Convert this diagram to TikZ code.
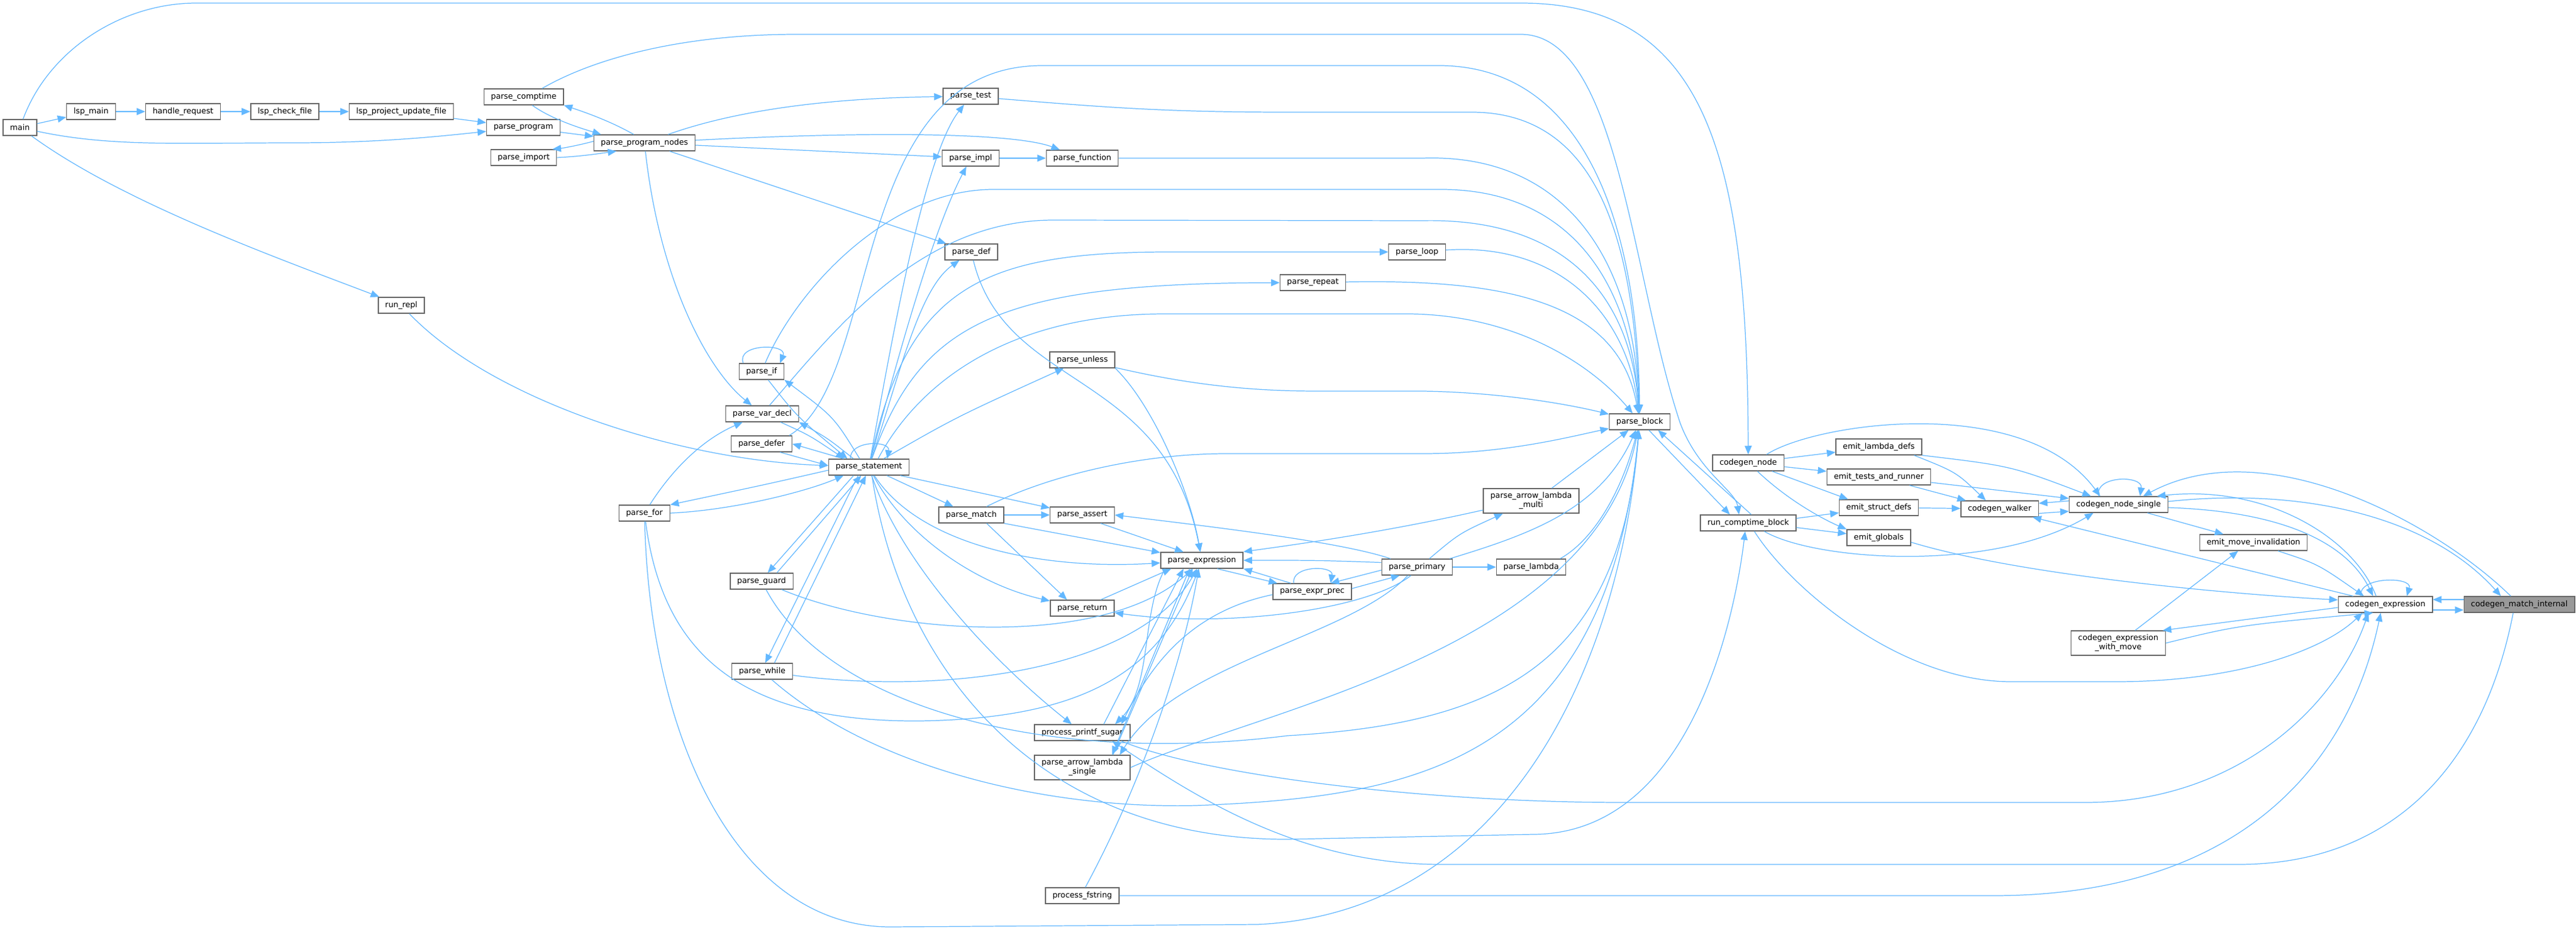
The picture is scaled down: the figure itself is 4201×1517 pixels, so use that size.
\documentclass[tikz,border=0pt]{standalone}
\usepackage{fontspec}
\setmainfont{DejaVu Sans}
\usetikzlibrary{arrows.meta}
\definecolor{callblue}{RGB}{99,184,255}
\definecolor{boxgray}{RGB}{102,102,102}
\definecolor{focusgray}{RGB}{153,153,153}
\tikzset{
    fn/.style={draw=boxgray, fill=white, line width=0.8pt, inner xsep=6.5pt, inner ysep=0pt,
        minimum height=0.52cm, font=\fontsize{7.3}{8.4}\selectfont},
    fntwo/.style={fn, align=center, minimum height=0.8cm},
    fnfocus/.style={fn, fill=focusgray},
    call/.style={draw=callblue, line width=0.7pt, -{Triangle[length=8pt,width=6.5pt]}}
}

\begin{document}
\begin{tikzpicture}[x=0.02cm,y=-0.02cm]

     \fill [white] (0,0) rectangle (4201,1517);
     \useasboundingbox (0,0) rectangle (4201,1517);

     \node [fn] (main) at (32.5,208) {main};
     \node [fn] (lspmain) at (148.5,182) {lsp\_main};
     \node [fn] (handlereq) at (298.5,182) {handle\_request};
     \node [fn] (lspcheck) at (464.5,182) {lsp\_check\_file};
     \node [fn] (lspupdate) at (654.5,182) {lsp\_project\_update\_file};
     \node [fn] (pcomptime) at (854,158) {parse\_comptime};
     \node [fn] (pprogram) at (853.5,208) {parse\_program};
     \node [fn] (pnodes) at (1051,233) {parse\_program\_nodes};
     \node [fn] (pimport) at (854,257) {parse\_import};
     \node [fn] (runrepl) at (654.5,498) {run\_repl};
     \node [fn] (ptest) at (1583,157) {parse\_test};
     \node [fn] (pimpl) at (1583,258) {parse\_impl};
     \node [fn] (pfunction) at (1765,258) {parse\_function};
     \node [fn] (pdef) at (1584,411) {parse\_def};
     \node [fn] (ploop) at (2311,411) {parse\_loop};
     \node [fn] (prepeat) at (2141,461) {parse\_repeat};
     \node [fn] (punless) at (1765,587) {parse\_unless};
     \node [fn] (pif) at (1242,606) {parse\_if};
     \node [fn] (pvardecl) at (1243,675) {parse\_var\_decl};
     \node [fn] (pdefer) at (1242,724) {parse\_defer};
     \node [fn] (pstmt) at (1417,762) {parse\_statement};
     \node [fn] (pfor) at (1051,837) {parse\_for};
     \node [fn] (pmatch) at (1584,840) {parse\_match};
     \node [fn] (passert) at (1765,840) {parse\_assert};
     \node [fn] (pexpr) at (1960,914) {parse\_expression};
     \node [fn] (pguard) at (1242,948) {parse\_guard};
     \node [fn] (preturn) at (1765,992) {parse\_return};
     \node [fn] (pwhile) at (1243,1095) {parse\_while};
     \node [fn] (pprintf) at (1765,1195) {process\_printf\_sugar};
     \node [fntwo] (psingle) at (1765,1252) {parse\_arrow\_lambda\\\_single};
     \node [fn] (pfstring) at (1765,1461) {process\_fstring};
     \node [fn] (pprec) at (2140,965) {parse\_expr\_prec};
     \node [fn] (pprimary) at (2311,925) {parse\_primary};
     \node [fntwo] (pmulti) at (2497,817) {parse\_arrow\_lambda\\\_multi};
     \node [fn] (plambda) at (2497,925) {parse\_lambda};
     \node [fn] (pblock) at (2674,688) {parse\_block};
     \node [fn] (cgnode) at (2851,755) {codegen\_node};
     \node [fn] (runcomptime) at (2851,853) {run\_comptime\_block};
     \node [fn] (emitlambda) at (3064,729) {emit\_lambda\_defs};
     \node [fn] (emittests) at (3064,778) {emit\_tests\_and\_runner};
     \node [fn] (emitstruct) at (3064,828) {emit\_struct\_defs};
     \node [fn] (emitglobals) at (3064,877) {emit\_globals};
     \node [fn] (cgwalker) at (3261,830) {codegen\_walker};
     \node [fn] (cgsingle) at (3455,823) {codegen\_node\_single};
     \node [fn] (emitmove) at (3675,885) {emit\_move\_invalidation};
     \node [fn] (cgexpr) at (3890,986) {codegen\_expression};
     \node [fnfocus] (cgmatch) at (4108.5,986) {codegen\_match\_internal};
     \node [fntwo] (cgexprmove) at (3454.5,1049) {codegen\_expression\\\_with\_move};

     \draw [call] (main) -- (lspmain);
     \draw [call] (lspmain) -- (handlereq);
     \draw [call] (handlereq) -- (lspcheck);
     \draw [call] (lspcheck) -- (lspupdate);
     \draw [call] (lspupdate) -- (pprogram);
     \draw [call] (main) .. controls (180,240) and (300,233) .. (480,233) .. controls (620,233) and (720,222) .. (pprogram);
     \draw [call] (main) .. controls (80,80) and (200,5) .. (320,5) -- (2480,5) .. controls (2780,5) and (2850,250) .. (cgnode);
     \draw [call] (main) .. controls (200,330) and (450,420) .. (runrepl);
     \draw [call] (runrepl) .. controls (800,650) and (1100,750) .. (pstmt);
     \draw [call] (pprogram) -- (pnodes);
     \draw [call] ([xshift=0.28cm]pcomptime.south) .. controls (900,195) and (950,210) .. ([xshift=0.25cm]pnodes.north west);
     \draw [call] ([xshift=-0.35cm]pnodes.north) .. controls (1000,200) and (960,185) .. (pcomptime.south east);
     \draw [call] (pimport.east) .. controls (950,255) and (980,250) .. ([xshift=0.75cm]pnodes.south west);
     \draw [call] ([yshift=0.05cm]pnodes.west) .. controls (940,238) and (915,242) .. ([xshift=-0.15cm]pimport.north east);
     \draw [call] ([xshift=0.6cm]pcomptime.north) .. controls (960,100) and (1100,56) .. (1300,56) -- (2480,56) .. controls (2640,56) and (2660,450) .. (2740,690) .. controls (2770,770) and (2830,800) .. ([xshift=-0.3cm]runcomptime.north);
     \draw [call] (pnodes) .. controls (1200,180) and (1350,160) .. (ptest);
     \draw [call] (pnodes) .. controls (1400,215) and (1650,215) .. (pfunction);
     \draw [call] (pnodes) -- (pimpl);
     \draw [call] (pnodes) -- (pdef);
     \draw [call] (pnodes) .. controls (1075,450) and (1150,600) .. (pvardecl);

     \draw [call] (pstmt) .. controls (1460,520) and (1510,250) .. (ptest);
     \draw [call] (ptest) .. controls (1800,175) and (1900,183) .. (2100,183) -- (2400,183) .. controls (2600,183) and (2665,380) .. (pblock);
     \draw [call] (pstmt) .. controls (1480,520) and (1530,360) .. (pimpl);
     \draw [call] (pimpl) -- (pfunction);
     \draw [call] (pfunction) -- (2320,258) .. controls (2550,250) and (2665,420) .. (pblock);
     \draw [call] (pstmt) .. controls (1470,600) and (1500,470) .. (pdef);
     \draw [call] (pdef) .. controls (1640,640) and (1900,600) .. (pexpr);
     \draw [call] (pstmt) .. controls (1480,470) and (1600,412) .. (1900,411) -- (ploop);
     \draw [call] (ploop) .. controls (2550,395) and (2655,520) .. (pblock);
     \draw [call] (pstmt) .. controls (1500,530) and (1620,462) .. (prepeat);
     \draw [call] (prepeat) .. controls (2450,455) and (2640,490) .. (pblock);
     \draw [call] (pstmt) .. controls (1560,680) .. (punless);
     \draw [call] (punless) .. controls (1950,630) and (2050,638) .. (2150,638) -- (2320,638) .. controls (2450,640) and (2560,660) .. (pblock);
     \draw [call] (punless.south east) .. controls (1880,660) and (1940,800) .. (pexpr);
     \draw [call] ([xshift=-0.6cm]pif.north) .. controls (1200,560) and (1285,560) .. ([xshift=0.6cm]pif.north);
     \draw [call] (pif) .. controls (1300,470) and (1450,309) .. (1620,309) -- (2350,309) .. controls (2560,309) and (2660,460) .. (pblock);
     \draw [call] (pvardecl) .. controls (1360,540) and (1500,358) .. (1720,359) -- (2320,360) .. controls (2560,355) and (2660,490) .. (pblock);
     \draw [call] (pif) .. controls (1300,680) .. ([xshift=-0.7cm]pstmt.north);
     \draw [call] ([xshift=-0.3cm]pstmt.north) .. controls (1360,680) .. (pif.south east);
     \draw [call] (pvardecl) .. controls (1320,710) .. ([xshift=-0.8cm]pstmt.north);
     \draw [call] ([xshift=-0.5cm]pstmt.north) .. controls (1350,715) .. (pvardecl.south east);
     \draw [call] ([xshift=-0.4cm]pdefer.south east) -- ([yshift=0.05cm]pstmt.west);
     \draw [call] ([xshift=0.5cm]pstmt.north west) -- (pdefer.east);
     \draw [call] ([xshift=-0.6cm]pstmt.north) .. controls (1385,718) and (1452,718) .. ([xshift=0.6cm]pstmt.north);
     \draw [call] (pfor) .. controls (1100,760) and (1150,715) .. (pvardecl);
     \draw [call] ([yshift=-0.1cm]pstmt.west) .. controls (1250,790) .. (pfor.north east);
     \draw [call] (pfor.east) .. controls (1200,832) and (1320,800) .. ([xshift=0.5cm]pstmt.south west);
     \draw [call] (pfor) .. controls (1080,1060) and (1200,1178) .. (1500,1176) .. controls (1760,1172) and (1890,1100) .. (pexpr);
     \draw [call] (pfor) .. controls (1060,1200) and (1200,1510) .. (1450,1512) -- (2050,1508) .. controls (2450,1490) and (2640,1100) .. (pblock);
     \draw [call] ([xshift=-0.5cm]pstmt.south) -- ([xshift=0.2cm]pguard.north);
     \draw [call] ([xshift=0.5cm]pguard.north) -- ([xshift=-0.25cm]pstmt.south);
     \draw [call] ([xshift=-0.35cm]pstmt.south) -- ([xshift=0.1cm]pwhile.north);
     \draw [call] ([xshift=0.4cm]pwhile.north) -- ([xshift=-0.1cm]pstmt.south);
     \draw [call] (pguard) .. controls (1450,1035) and (1800,1060) .. (pexpr);
     \draw [call] (pguard) .. controls (1350,1150) and (1700,1250) .. (2100,1200) .. controls (2450,1180) and (2640,1080) .. (pblock);
     \draw [call] (pwhile) .. controls (1550,1135) and (1860,1090) .. (pexpr);
     \draw [call] (pwhile) .. controls (1420,1250) and (1700,1320) .. (1950,1314) .. controls (2300,1300) and (2620,1250) .. (pblock);
     \draw [call] (pstmt) -- (pmatch);
     \draw [call] ([xshift=-0.3cm]pstmt.south east) -- (passert);
     \draw [call] (pstmt) .. controls (1480,880) and (1600,955) .. (preturn);
     \draw [call] (pstmt) .. controls (1500,890) and (1700,930) .. (pexpr);
     \draw [call] (pstmt) .. controls (1470,920) and (1620,1080) .. (pprintf);
     \draw [call] ([xshift=0.1cm]pstmt.south) .. controls (1470,1100) and (1700,1370) .. (2100,1369) -- (2500,1361) .. controls (2760,1360) and (2830,1000) .. ([xshift=-0.1cm]runcomptime.south);
     \draw [call] ([xshift=0.3cm]pstmt.north) .. controls (1500,620) and (1650,512) .. (1900,512) -- (2300,512) .. controls (2480,515) and (2600,600) .. (pblock);
     \draw [call] ([xshift=-0.1cm]pdefer.north east) .. controls (1440,620) and (1380,107) .. (1700,107) -- (2350,107) .. controls (2600,110) and (2672,400) .. (pblock);

     \draw [call] (pmatch) -- (passert);
     \draw [call] (pmatch.south east) -- (pexpr);
     \draw [call] ([xshift=0.5cm]pmatch.south) -- ([xshift=-0.5cm]preturn.north);
     \draw [call] ([xshift=0.5cm]pmatch.north) .. controls (1700,780) and (1850,740) .. (2000,740) -- (2320,740) .. controls (2450,740) and (2550,715) .. (pblock);
     \draw [call] ([xshift=0.6cm]passert.south) -- ([xshift=-0.6cm]pexpr.north);
     \draw [call] ([xshift=0.6cm]preturn.north) -- ([xshift=-1cm]pexpr.south);
     \draw [call] ([xshift=0.5cm]pexpr.south) -- (pprec);
     \draw [call] ([xshift=0.6cm]pprec.north west) -- (pexpr.south east);
     \draw [call] ([xshift=-0.6cm]pprec.north) .. controls (2105,922) and (2175,922) .. ([xshift=0.6cm]pprec.north);
     \draw [call] ([yshift=0.1cm]pprec.east) -- ([xshift=0.6cm]pprimary.south west);
     \draw [call] ([yshift=-0.1cm]pprimary.west) -- ([xshift=0.6cm]pprec.north);
     \draw [call] ([yshift=0.15cm]pprimary.west) .. controls (2150,914) .. (pexpr.east);
     \draw [call] ([yshift=-0.3cm]pmulti.west) .. controls (2250,870) and (2100,890) .. ([yshift=0.28cm]pexpr.east);
     \draw [call] ([xshift=0.3cm]pprimary.north west) .. controls (2190,885) and (2000,862) .. (passert.east);
     \draw [call] ([xshift=0.4cm]pprimary.north) .. controls (2380,870) .. ([xshift=-0.92cm]pmulti.south);
     \draw [call] (pprimary) -- (plambda);
     \draw [call] ([xshift=-0.9cm]pmulti.north east) -- (pblock);
     \draw [call] ([xshift=-0.1cm]pprimary.north east) .. controls (2500,870) and (2610,830) .. (pblock);
     \draw [call] ([xshift=-0.2cm]plambda.north east) .. controls (2600,880) and (2645,800) .. (pblock);
     \draw [call] ([xshift=-0.2cm]pprimary.south) .. controls (2230,995) and (2000,1025) .. ([yshift=-0.15cm]preturn.east);
     \draw [call] ([xshift=-0.3cm]pprimary.south) .. controls (2200,1040) and (1920,1080) .. ([xshift=-0.35cm]psingle.north east);
     \draw [call] ([xshift=1cm]psingle.north) -- ([xshift=-0.3cm]pexpr.south);
     \draw [call] ([xshift=-0.4cm]pexpr.south) -- ([xshift=-0.6cm]psingle.north east);
     \draw [call] ([xshift=0.7cm]pprintf.north) -- ([xshift=-0.6cm]pexpr.south);
     \draw [call] ([xshift=-1.2cm]pexpr.south) .. controls (1860,1000) and (1880,1120) .. ([xshift=-0.5cm]pprintf.north east);
     \draw [call] ([yshift=-0.1cm]pprec.west) .. controls (1930,1000) and (1870,1100) .. ([xshift=-0.3cm]pprintf.north east);
     \draw [call] ([xshift=0.1cm]pfstring.north) .. controls (1850,1300) and (1925,1100) .. ([xshift=-0.1cm]pexpr.south);
     \draw [call] (psingle.east) .. controls (2050,1160) and (2600,1060) .. (pblock);
     \draw [call] (pfstring) -- (3250,1461) .. controls (3650,1461) and (3830,1250) .. ([xshift=-0.15cm]cgexpr.south);
     \draw [call] ([xshift=-0.3cm]pprintf.south east) .. controls (1950,1260) and (2300,1309) .. (2650,1309) -- (3400,1309) .. controls (3650,1309) and (3810,1150) .. ([xshift=-0.55cm]cgexpr.south);
     \draw [call] ([xshift=-0.2cm]cgmatch.south) .. controls (4050,1250) and (3900,1410) .. (3650,1410) -- (2350,1410) .. controls (2120,1410) and (1950,1300) .. ([xshift=-0.6cm]pprintf.south east);

     \draw [call] ([xshift=0.3cm]pblock.south) -- ([xshift=-0.6cm]runcomptime.north);
     \draw [call] ([xshift=0.1cm]runcomptime.north) -- ([xshift=0.6cm]pblock.south);
     \draw [call] (cgnode) -- (emitlambda);
     \draw [call] (cgnode) -- (emittests);
     \draw [call] ([xshift=-0.4cm]cgnode.south east) -- ([xshift=0.3cm]emitstruct.north west);
     \draw [call] ([xshift=0.3cm]cgnode.south) .. controls (2920,820) and (2980,850) .. (emitglobals.north west);
     \draw [call] ([xshift=0.6cm]cgnode.north) .. controls (2960,690) and (3300,640) .. ([xshift=-0.6cm]cgsingle.north);
     \draw [call] ([yshift=0.15cm]runcomptime.east) -- (emitstruct);
     \draw [call] ([yshift=-0.15cm]runcomptime.east) -- (emitglobals);
     \draw [call] ([xshift=-1.05cm]runcomptime.south east) .. controls (2960,915) and (3250,935) .. ([xshift=0.8cm]cgsingle.south west);
     \draw [call] ([xshift=0.2cm]runcomptime.south) .. controls (2920,960) and (3100,1112) .. (3280,1112) -- (3450,1112) .. controls (3650,1112) and (3790,1060) .. ([xshift=-0.75cm]cgexpr.south);
     \draw [call] ([xshift=1.15cm]emitlambda.south) .. controls (3190,770) .. ([xshift=-0.45cm]cgwalker.north);
     \draw [call] (emitlambda.south east) .. controls (3280,760) .. ([xshift=-0.9cm]cgsingle.north);
     \draw [call] ([xshift=1cm]emittests.south) -- ([xshift=-1.1cm]cgwalker.north);
     \draw [call] ([yshift=-0.18cm]emittests.east) -- ([yshift=0.2cm]cgsingle.west);
     \draw [call] (emitstruct) -- (cgwalker);
     \draw [call] ([yshift=-0.15cm]emitglobals.east) .. controls (3300,940) and (3650,970) .. ([yshift=0.15cm]cgexpr.west);
     \draw [call] ([yshift=-0.15cm]cgwalker.east) -- ([yshift=-0.22cm]cgsingle.west);
     \draw [call] ([yshift=0.12cm]cgsingle.west) -- ([yshift=0.18cm]cgwalker.east);
     \draw [call] ([xshift=-0.65cm]cgsingle.north) .. controls (3415,775) and (3495,775) .. ([xshift=0.7cm]cgsingle.north);
     \draw [call] ([xshift=0.94cm]cgsingle.south) -- ([xshift=-0.98cm]emitmove.north);
     \draw [call] ([yshift=-0.1cm]cgsingle.east) .. controls (3750,835) and (3835,900) .. ([xshift=-0.4cm]cgexpr.north);
     \draw [call] ([yshift=0.1cm]cgsingle.east) .. controls (3750,795) and (3960,840) .. ([xshift=-0.6cm]cgmatch.north);
     \draw [call] ([xshift=-0.28cm]cgmatch.north) .. controls (3980,860) and (3700,700) .. ([xshift=0.8cm]cgsingle.north);
     \draw [call] ([xshift=-0.3cm]cgexpr.north) .. controls (3840,880) and (3700,790) .. ([xshift=1.25cm]cgsingle.north);
     \draw [call] ([xshift=0.5cm]cgexpr.north west) -- ([xshift=-0.2cm]cgwalker.south east);
     \draw [call] ([xshift=0.8cm]emitmove.south) .. controls (3780,920) .. ([xshift=-0.7cm]cgexpr.north);
     \draw [call] ([xshift=-0.8cm]cgexpr.north) .. controls (3845,940) and (3935,940) .. ([xshift=0.7cm]cgexpr.north);
     \draw [call] ([yshift=-0.18cm]cgexpr.east) -- ([yshift=-0.18cm]cgmatch.west);
     \draw [call] ([yshift=0.16cm]cgmatch.west) -- ([yshift=0.16cm]cgexpr.east);
     \draw [call] ([yshift=-0.1cm]cgexpr.west) -- ([xshift=-0.1cm]cgexprmove.north east);
     \draw [call] (cgexprmove.east) .. controls (3650,1020) .. ([xshift=-0.4cm]cgexpr.south);
     \draw [call] ([xshift=0.55cm]cgexprmove.north) -- ([xshift=-0.5cm]emitmove.south);
\end{tikzpicture}
\end{document}
